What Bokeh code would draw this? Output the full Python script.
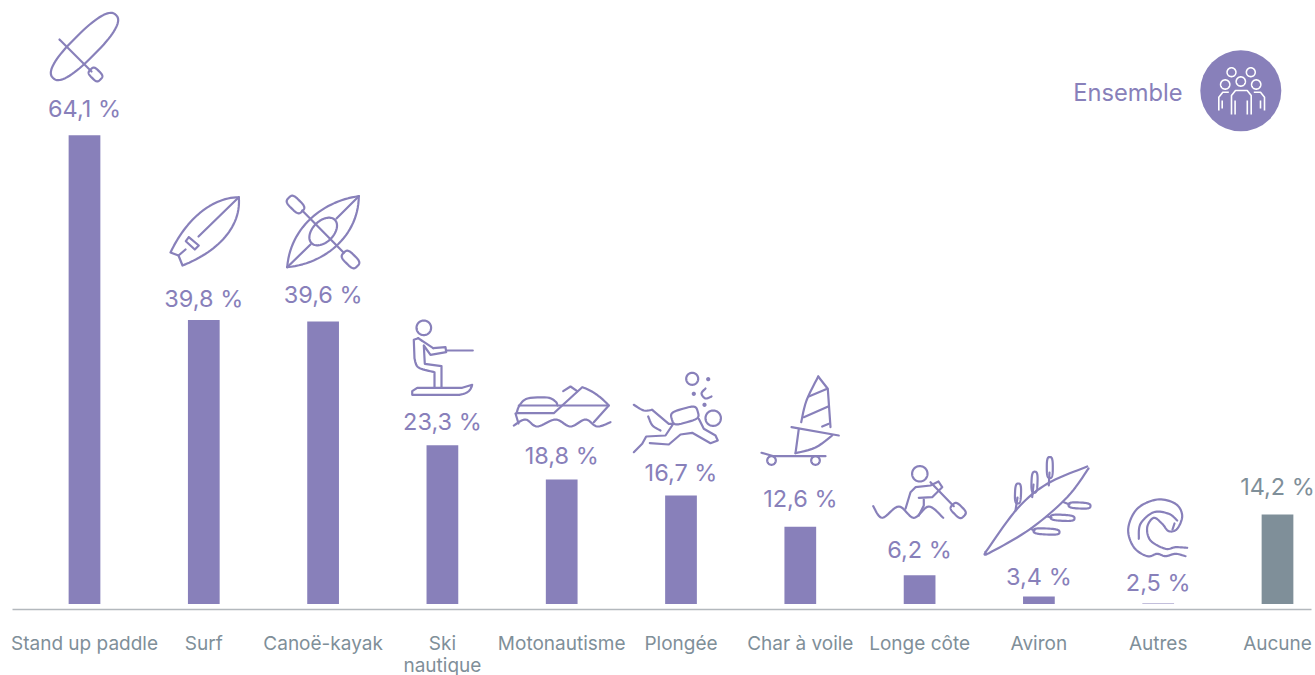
import numpy as np
from bokeh.core.properties import value
from bokeh.embed import file_html
from bokeh.models import ColumnDataSource, FixedTicker, LinearAxis, Range1d
from bokeh.plotting import figure
from bokeh.resources import INLINE

# ---------- data ----------
categories = ["Stand up paddle", "Surf", "Canoë-kayak", "Ski", "Motonautisme", "Plongée",
              "Char à voile", "Longe côte", "Aviron", "Autres", "Aucune"]
values = [64.1, 39.8, 39.6, 23.3, 18.8, 16.7, 12.6, 6.2, 3.4, 2.5, 14.2]
second_line = {3: "nautique"}

# ---------- style / layout ----------
PURPLE = "#8880ba"
GREY = "#7f8f99"
bar_colors = [PURPLE] * 10 + [GREY]
label_gap = [27, 21, 27, 24, 24, 23, 28, 26, 20, 21, 28]   # px between bar top and label centre
FONT = "Inter"
W, H = 1315, 675
AXIS_Y = 609
BOTTOM = 70          # room the two rows of axis labels ask for
BAR_BASE = 2.44      # truncated value axis, as in the original
Y_MIN, Y_MAX = 1.70, 81.82
X_MIN, X_MAX = -0.7041, 10.3185


def bez(p0, c1, c2, p3, n=30):
    t = np.linspace(0, 1, n)[:, None]
    p0, c1, c2, p3 = map(lambda v: np.array(v, float), (p0, c1, c2, p3))
    return (1 - t) ** 3 * p0 + 3 * (1 - t) ** 2 * t * c1 + 3 * (1 - t) * t ** 2 * c2 + t ** 3 * p3


def smooth(pts, n=10):
    """Catmull-Rom through the points."""
    p = np.array(pts, float)
    p = np.vstack([p[0], p, p[-1]])
    out = []
    for i in range(1, len(p) - 2):
        for t in np.linspace(0, 1, n, endpoint=False):
            a, b, c, d = p[i - 1], p[i], p[i + 1], p[i + 2]
            out.append(0.5 * (2 * b + (c - a) * t + (2 * a - 5 * b + 4 * c - d) * t ** 2
                              + (3 * b - a - 3 * c + d) * t ** 3))
    out.append(p[-2])
    return np.array(out)


def blob(cx, cy, a, b, deg=0, e=2.0):
    """Rotated superellipse: circles, ellipses and rounded blades."""
    t = np.linspace(0, 2 * np.pi, 73)
    x = a * np.sign(np.cos(t)) * np.abs(np.cos(t)) ** (2 / e)
    y = b * np.sign(np.sin(t)) * np.abs(np.sin(t)) ** (2 / e)
    r = np.radians(deg)
    return np.c_[cx + x * np.cos(r) - y * np.sin(r), cy + x * np.sin(r) + y * np.cos(r)]


def line(*pts):
    return np.array(pts, float)


icons = [
    # stand up paddle
    blob(84, 46, 44.5, 12.5, -45, 2.5), line((59, 39), (91, 71)), blob(95, 74, 7, 4.8, 45, 3.5),
    # surf
    np.vstack([bez((238.3, 196.7), (212, 197), (186, 218), (170, 252)), line((178, 255), (182, 265)),
               bez((182, 265), (215, 252), (241, 228), (238.3, 196.7))]),
    line((238.3, 196.7), (198, 236)), line((185, 249), (178, 255)),
    line((188.3, 236.7), (198.3, 245), (194.3, 249), (185.3, 240.7), (188.3, 236.7)),
    # kayak
    bez((358.3, 195.7), (325, 200), (290, 225), (286.7, 266.7)), bez((286.7, 266.7), (325, 263), (358, 235), (358.3, 195.7)),
    line((358.3, 195.7), (336, 218)), line((310, 244), (286.7, 266.7)),
    blob(322.7, 231, 16.5, 10.5, -45), line((301.7, 210), (343.3, 252.3)),
    blob(295, 204, 9.5, 5.5, 45, 3.5), blob(350, 259, 9.5, 5.5, 45, 3.5),
    # water ski
    blob(423.3, 327.3, 7.3, 7.3),
    smooth([(417.7, 337.7), (432.7, 347.7)], 4), line((432.7, 347.7), (445, 346.7), (445.7, 351.7), (430, 354.3), (423.3, 345),
                                                      (424.3, 363.3), (441, 365.7), (441, 387.3)),
    np.vstack([line((417.7, 337.7), (413.3, 339.3), (414, 358)), smooth([(414, 358), (418, 367), (434, 371.7)]),
               line((434, 371.7), (434, 387.3))]),
    line((445.7, 350), (472.3, 350)),
    np.vstack([bez((471.7, 384.3), (470, 391), (466, 393), (459, 394.3)), line((411.7, 394.3), (411.7, 390.7), (416.7, 387.3),
                                                                           (461.7, 387.3), (471.7, 384.3))]),
    # jet ski
    smooth([(513.3, 425), (525, 419), (536.7, 426), (555, 419), (570, 426), (585, 419), (596.7, 426), (610, 421.7)]),
    line((518.3, 405), (608.3, 405)),
    line((515, 413), (518, 423)),
    np.vstack([line((516.7, 412.7), (553.3, 412.7), (561.7, 405), (581.7, 386.7)),
               bez((581.7, 386.7), (592, 390), (601, 397), (608.3, 405)), line((608.3, 405), (593.3, 421.7))]),
    smooth([(516, 413), (519, 405), (527, 398), (546.7, 397), (555, 401), (557, 405)], 6),
    line((562.7, 390.7), (570, 386), (576.7, 390.7)),
    # diver
    blob(691.7, 378.3, 6, 6), blob(712.7, 417.7, 7.7, 7.7), blob(684.3, 415, 13.5, 7, -16, 4),
    blob(707.7, 378.7, 1, 1), blob(693.3, 393.3, 1, 1), blob(704, 404.3, 1, 1),
    smooth([(705, 388), (701, 393), (705, 398), (711, 396)], 5),
    smooth([(633.3, 404.3), (643.3, 410), (651.7, 409.3)], 6), line((651.7, 409.3), (668.3, 423.3), (673.3, 423.3)),
    smooth([(647.7, 416), (652, 425), (660, 430)], 6),
    np.vstack([line((672.3, 424), (665, 435), (645.7, 436), (641.7, 443.3)), line((633.3, 451.7))]),
    line((649.3, 442.7), (668.3, 444), (680, 434), (691.7, 432.3), (710, 442.7), (717.3, 440), (715, 435), (703.3, 428.3), (698.3, 418.3)),
    # windsurf
    smooth([(817.7, 376), (806, 400), (800.7, 421.7)], 6), line((817.7, 376), (827.3, 388.3), (830, 426.7)),
    line((808.3, 396), (826.7, 388.3)), line((803.3, 416.7), (827.7, 406)), line((821.7, 426), (828.3, 423.3)),
    line((791, 426.7), (838.3, 435)), line((798.3, 428.3), (795, 452.7)),
    smooth([(795, 452.7), (815, 447), (831.7, 435)], 6),
    line((761, 452.3), (773.3, 455.7), (825, 455.7)), blob(771, 460, 4.3, 4.3), blob(815, 460, 4.3, 4.3),
    # longe côte
    blob(919.3, 473.3, 7.7, 7.7),
    smooth([(872.7, 505.7), (881.7, 517.3), (898.3, 506), (913.3, 517.3), (928.3, 506), (942.7, 517.3)]),
    np.vstack([line((905, 508.3), (910, 491.7), (915, 486.7), (930, 485), (938, 481)), line((941.7, 486.7), (931.7, 496.7), (918.3, 497.3))]),
    line((918.3, 515), (923.3, 505), (923.3, 499)), line((930, 481.7), (953.3, 505.7)), blob(957.7, 510, 8, 5, 45, 3.5),
    # aviron
    smooth([(985, 551.7), (1016.7, 508.3), (1046.7, 483.3), (1086.7, 466)]),
    smooth([(1088, 468), (1066.7, 496.7), (1030, 528.3), (988.3, 552.7), (985, 551.7)]),
    line((1015, 510), (1017, 497)), blob(1017.5, 493, 10, 3, 92, 3),
    line((1031.7, 496.7), (1033, 484)), blob(1034, 481.7, 10.5, 3, 92, 3),
    line((1048.3, 485), (1049, 472)), blob(1049.3, 467, 10.5, 3, 90, 3),
    line((1063.3, 501.7), (1069, 504)), blob(1079, 505, 11, 3, 3, 3),
    line((1046.7, 516), (1051, 517)), blob(1062, 517.3, 12, 3, 3, 3),
    line((1030, 528.3), (1034, 530)), blob(1046, 531, 13, 3, 3, 3),
    # wave
    smooth([(1185, 555.7), (1175, 553.3), (1165, 555.7), (1156.7, 553.3), (1146.7, 555.7), (1133.3, 546.7), (1127.7, 528.3),
            (1136.7, 508.3), (1156.7, 499), (1175, 503.3), (1181.7, 515), (1176.7, 528.3), (1168.3, 530.7), (1161.7, 523.3),
            (1153.3, 517.3), (1146.7, 526.7), (1150, 540), (1165, 548.3), (1175, 546.7), (1186.7, 547.3)]),
    smooth([(1138.3, 538.3), (1140, 523.3), (1153.3, 511.7), (1168.3, 513.3), (1176.7, 520)]),
    line((1172, 529), (1174, 523)),
]

people = [
    blob(1231, 71.7, 4.4, 4.4), blob(1250.3, 71.7, 4.4, 4.4), blob(1224.7, 84, 4.6, 4.6),
    blob(1240.3, 81, 4.6, 4.6), blob(1255.7, 84, 4.6, 4.6),
    line((1231, 114), (1231, 95), (1235, 90), (1246.7, 90), (1250.7, 95), (1250.7, 114)),
    line((1234.6, 100), (1234.6, 114)), line((1246.8, 100), (1246.8, 114)),
    line((1218.3, 110), (1218.3, 96.7), (1222.3, 91.7), (1228.3, 91.7)), line((1221.7, 100), (1221.7, 108)),
    line((1264, 110), (1264, 96.7), (1260, 91.7), (1253.3, 91.7)), line((1260, 100), (1260, 108)),
]

# ---------- figure ----------
p = figure(width=W, height=AXIS_Y + BOTTOM, output_backend="svg", toolbar_location=None, y_axis_location=None,
           x_range=Range1d(X_MIN, X_MAX), y_range=Range1d(Y_MIN, Y_MAX),
           min_border_left=0, min_border_right=0, min_border_top=0, min_border_bottom=BOTTOM,
           outline_line_color=None, background_fill_color="white", border_fill_color="white",
           margin=(0, 0, H - AXIS_Y - BOTTOM, 0))
p.grid.visible = False
p.extra_x_ranges["px"] = Range1d(0, W)
p.extra_y_ranges["px"] = Range1d(AXIS_Y, 0)

src = ColumnDataSource(dict(
    x=list(range(len(categories))), top=values, color=bar_colors,
    label=[f"{v:.1f} %".replace(".", ",") for v in values],
    off=[-g for g in label_gap],
))
p.vbar(x="x", top="top", bottom=BAR_BASE, width=0.266, color="color", line_color=None, source=src)
p.text(x="x", y="top", text="label", y_offset="off", text_color="color", text_font=value(FONT),
       text_font_size="23.5px", text_align="center", text_baseline="middle", source=src)

ax = p.xaxis[0]
ax.ticker = FixedTicker(ticks=list(range(len(categories))))
ax.major_label_overrides = {i: c for i, c in enumerate(categories)}
ax.major_tick_line_color = None
ax.minor_tick_line_color = None
ax.major_tick_out = 0
ax.axis_line_color = "#b3b8bd"
ax.axis_line_width = 1.6
ax.bounds = ((12 - 84) / 119.3, (1311 - 84) / 119.3)
ax.major_label_text_color = GREY
ax.major_label_text_font = FONT
ax.major_label_text_font_size = "19px"
ax.major_label_standoff = 22
ax.major_label_orientation = "horizontal"

ax2 = LinearAxis(ticker=FixedTicker(ticks=list(second_line)), major_label_overrides=second_line,
                 axis_line_color=None, major_tick_line_color=None, minor_tick_line_color=None, major_tick_out=0,
                 major_label_standoff=-4, major_label_text_color=GREY, major_label_text_font=FONT,
                 major_label_text_font_size="19px", major_label_orientation="horizontal")
p.add_layout(ax2, "below")

p.multi_line(xs=[list(i[:, 0]) for i in icons], ys=[list(i[:, 1]) for i in icons], line_color=PURPLE, line_width=2.2,
             line_join="round", line_cap="round", x_range_name="px", y_range_name="px")

p.scatter(x=[1240.3], y=[90.3], size=81, marker="circle", color=PURPLE, line_color=None, x_range_name="px", y_range_name="px")
p.multi_line(xs=[list(i[:, 0]) for i in people], ys=[list(i[:, 1]) for i in people], line_color="white", line_width=1.6,
             line_join="round", x_range_name="px", y_range_name="px")
p.text(x=[1182], y=[92], text=["Ensemble"], text_color=PURPLE, text_font=value(FONT), text_font_size="23.7px",
       text_align="right", text_baseline="middle", x_range_name="px", y_range_name="px")

open("out.html", "w").write(file_html(p, INLINE))
